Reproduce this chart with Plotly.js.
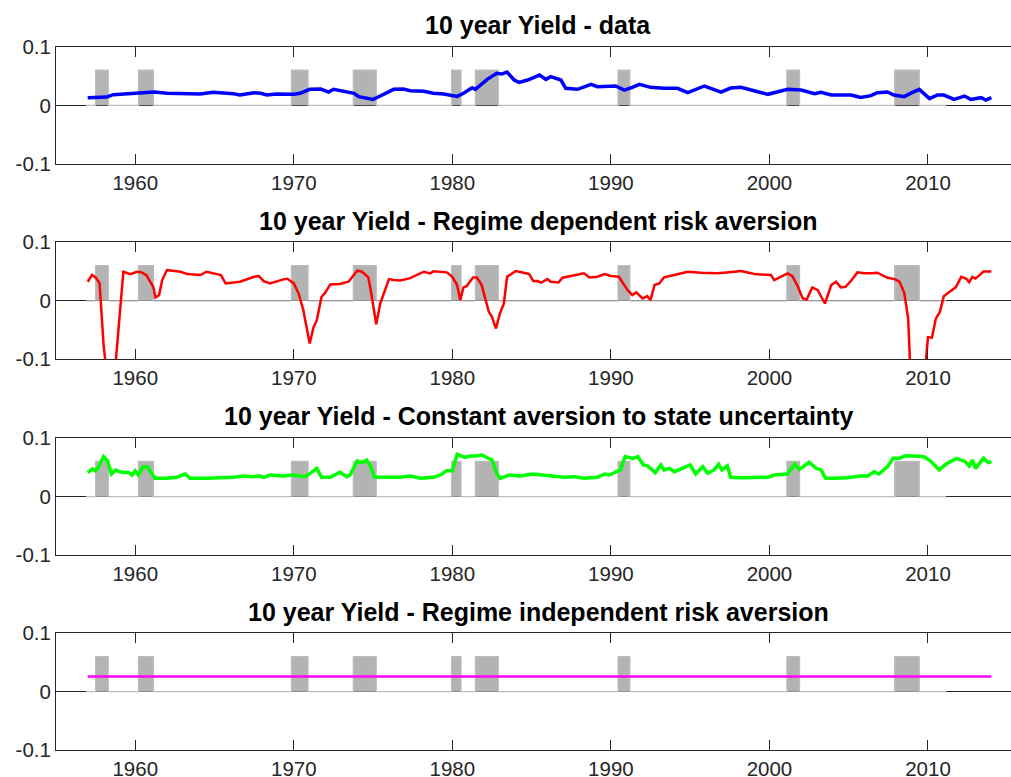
<!DOCTYPE html>
<html>
<head>
<meta charset="utf-8">
<script src="https://cdn.plot.ly/plotly-3.0.1.min.js"></script>
<style>html,body{margin:0;padding:0;background:#fff;}#chart{width:1011px;height:777px;}</style>
</head>
<body>
<div id="chart"></div>
<script>
// ---- Data ----
const titles = [
  "10 year Yield - data",
  "10 year Yield - Regime dependent risk aversion",
  "10 year Yield - Constant aversion to state uncertainty",
  "10 year Yield - Regime independent risk aversion"
];

// Recession shading (start / end of each shaded block), height and covered span
const recessionStart = [1957.5, 1960.2, 1969.85, 1973.75, 1979.95, 1981.45, 1990.45, 2001.1, 2007.9];
const recessionEnd   = [1958.3, 1961.15, 1970.9, 1975.2, 1980.55, 1982.9, 1991.2, 2001.9, 2009.45];
const recessionHeight = 0.06;
const shadeSpan = [1956.9, 2011.15];

// Panel 1: data
const dataYears = [1957.0,1958.2,1958.6,1960.0,1960.7,1961.2,1962.0,1964.1,1964.9,1966.2,1966.6,1967.5,1967.9,1968.3,1968.9,1970.0,1970.4,1971.0,1971.7,1972.2,1972.5,1973.35,1973.8,1974.1,1974.8,1975.0,1975.45,1975.9,1976.3,1976.9,1977.35,1978.2,1978.8,1979.45,1980.3,1980.7,1981.25,1981.45,1982.2,1982.8,1983.1,1983.45,1983.9,1984.2,1984.75,1985.5,1985.9,1986.2,1986.85,1987.15,1987.9,1988.75,1989.15,1990.3,1990.85,1991.35,1991.8,1992.5,1993.35,1994.2,1994.85,1995.9,1996.95,1997.55,1998.2,1998.85,1999.9,2001.15,2002.0,2002.85,2003.25,2003.9,2005.15,2005.75,2006.4,2006.8,2007.45,2007.85,2008.5,2008.9,2009.45,2010.1,2010.6,2011.0,2011.65,2012.3,2012.7,2013.35,2013.65,2014.0];
const dataYield = [0.0131,0.0142,0.0182,0.0205,0.0222,0.0227,0.0205,0.0193,0.0222,0.0199,0.0176,0.0216,0.0205,0.0176,0.0193,0.0188,0.0205,0.0273,0.0278,0.0227,0.0273,0.0227,0.0205,0.0148,0.0119,0.0102,0.0159,0.0216,0.0273,0.0278,0.025,0.0239,0.0205,0.0193,0.0153,0.0205,0.0301,0.0273,0.0443,0.0545,0.0534,0.0568,0.0432,0.0392,0.0432,0.0517,0.0443,0.0489,0.0432,0.029,0.0273,0.0358,0.0318,0.033,0.0261,0.0307,0.0358,0.0307,0.029,0.029,0.0216,0.033,0.0227,0.0295,0.0307,0.0261,0.0188,0.0273,0.0261,0.0199,0.0222,0.0176,0.0176,0.0136,0.0165,0.0216,0.0227,0.0176,0.0148,0.0205,0.0273,0.0114,0.0176,0.0176,0.0102,0.0159,0.0102,0.0131,0.0091,0.0131];

// Panel 2: regime dependent risk aversion
const depYears = [1957.0,1957.27,1957.5,1957.75,1958.0,1958.25,1958.5,1958.75,1959.0,1959.25,1959.7,1960.1,1960.4,1960.7,1961.15,1961.27,1961.5,1961.7,1962.0,1962.85,1963.3,1964.1,1964.5,1965.4,1965.7,1966.6,1967.5,1967.8,1968.1,1968.5,1969.35,1969.6,1970.0,1970.3,1970.6,1970.85,1971.0,1971.25,1971.45,1971.75,1971.95,1972.3,1972.9,1973.45,1974.0,1974.3,1974.7,1974.85,1975.2,1975.45,1976.0,1976.3,1976.7,1977.3,1977.75,1978.2,1978.6,1978.8,1979.65,1980.0,1980.3,1980.5,1980.7,1980.9,1981.3,1981.55,1981.85,1982.3,1982.5,1982.75,1983.0,1983.25,1983.45,1984.0,1984.5,1984.85,1985.1,1985.35,1985.6,1986.0,1986.2,1986.7,1986.95,1987.7,1988.3,1988.65,1989.15,1989.6,1990.0,1990.5,1991.05,1991.35,1991.6,1992.0,1992.3,1992.5,1992.75,1993.05,1993.35,1994.0,1994.85,1995.7,1996.75,1997.8,1998.2,1999.05,2000.1,2000.3,2001.15,2001.45,2001.8,2002.1,2002.35,2002.7,2003.05,2003.5,2003.9,2004.2,2004.5,2004.8,2005.15,2005.55,2006.0,2006.4,2006.8,2007.45,2007.9,2008.2,2008.5,2008.75,2009.0,2009.25,2009.5,2009.75,2010.0,2010.25,2010.5,2010.75,2011.0,2011.3,2011.75,2012.1,2012.4,2012.6,2012.8,2013.0,2013.5,2014.0];
const depYield = [0.0326,0.044,0.040,0.030,-0.075,-0.18,-0.2,-0.11,-0.03,0.0497,0.0457,0.0497,0.0486,0.044,0.0229,0.0057,0.0097,0.0354,0.0526,0.0497,0.0457,0.044,0.0497,0.044,0.0297,0.0326,0.0411,0.0423,0.0337,0.0297,0.0366,0.0377,0.0297,0.0126,-0.016,-0.0503,-0.0731,-0.0446,-0.0331,0.0069,0.0126,0.028,0.0286,0.0326,0.0514,0.0497,0.040,0.0183,-0.040,-0.0046,0.0371,0.0354,0.0349,0.0383,0.044,0.0497,0.0469,0.0503,0.0486,0.0411,0.0269,0.0011,0.0229,0.0251,0.040,0.040,0.0269,-0.0189,-0.0274,-0.0474,-0.0217,-0.0046,0.0411,0.0509,0.048,0.0457,0.0337,0.0337,0.0309,0.0371,0.0326,0.0314,0.0394,0.044,0.0469,0.040,0.0411,0.0457,0.0423,0.0411,0.0183,0.0097,0.0143,0.004,0.008,0.0011,0.0269,0.0297,0.040,0.044,0.0497,0.048,0.0469,0.0497,0.0509,0.0457,0.044,0.0354,0.0469,0.0423,0.024,0.004,0.0023,0.0229,0.0183,-0.0046,0.0269,0.0326,0.0229,0.024,0.0343,0.0486,0.0469,0.0469,0.048,0.0394,0.0371,0.0326,0.014,-0.03,-0.2,-0.35,-0.3,-0.14,-0.062,-0.063,-0.030,-0.019,0.008,0.014,0.023,0.041,0.038,0.032,0.041,0.038,0.050,0.050];

// Panel 3: constant aversion to state uncertainty
const constYears = [1957.0,1957.3,1957.5,1957.7,1958.0,1958.25,1958.5,1958.75,1959.0,1959.6,1959.8,1960.0,1960.2,1960.5,1960.75,1961.25,1962.0,1962.6,1963.15,1963.45,1964.5,1966.2,1966.8,1967.45,1967.9,1968.1,1968.5,1969.35,1970.0,1970.7,1971.1,1971.45,1971.75,1972.3,1972.9,1973.35,1973.55,1974.0,1974.3,1974.6,1974.8,1975.1,1975.7,1976.7,1977.35,1978.0,1978.8,1979.25,1979.65,1980.0,1980.3,1980.8,1981.1,1981.5,1981.85,1982.5,1982.8,1983.0,1983.6,1984.3,1985.05,1985.8,1987.05,1987.7,1988.3,1989.15,1989.6,1989.9,1990.3,1990.6,1990.9,1991.15,1991.4,1991.7,1992.05,1992.3,1992.8,1993.15,1993.35,1993.7,1994.0,1994.5,1995.0,1995.35,1995.8,1996.1,1996.5,1996.8,1997.0,1997.35,1997.55,1998.2,1999.25,1999.9,2000.3,2001.15,2001.6,2001.9,2002.5,2002.95,2003.25,2003.55,2004.1,2004.9,2005.75,2006.2,2006.6,2006.9,2007.45,2007.8,2008.2,2008.6,2009.1,2009.75,2010.2,2010.7,2011.2,2011.8,2012.35,2012.6,2012.8,2013.0,2013.5,2013.8,2014.0];
const constYield = [0.0409,0.0472,0.0438,0.0511,0.0682,0.0608,0.0386,0.0455,0.0426,0.0409,0.0369,0.0438,0.0369,0.0511,0.0511,0.0313,0.0313,0.033,0.0386,0.0313,0.0313,0.033,0.0352,0.0341,0.0352,0.033,0.0369,0.0352,0.0369,0.0341,0.0409,0.0483,0.033,0.033,0.0415,0.0341,0.0369,0.0608,0.058,0.0625,0.054,0.033,0.033,0.033,0.0352,0.0313,0.033,0.0369,0.0443,0.0443,0.0722,0.067,0.0693,0.0693,0.071,0.0625,0.0398,0.0313,0.0369,0.0352,0.0386,0.0369,0.033,0.0341,0.0313,0.033,0.0386,0.0369,0.0426,0.0455,0.0682,0.067,0.0653,0.0682,0.054,0.0528,0.0409,0.054,0.0455,0.0483,0.0426,0.0483,0.054,0.0386,0.0511,0.0398,0.0455,0.0551,0.0455,0.0523,0.033,0.0324,0.0324,0.033,0.0369,0.0386,0.0557,0.0466,0.0585,0.0483,0.0455,0.0313,0.0313,0.0324,0.0352,0.0352,0.0426,0.0386,0.0511,0.0653,0.0653,0.0699,0.0693,0.0682,0.0597,0.0455,0.0568,0.0653,0.0597,0.0523,0.0625,0.0483,0.0653,0.058,0.0597];

// Panel 4: regime independent risk aversion (flat)
const indepYears = [1957.0, 2014.0];
const indepYield = [0.026, 0.026];

const yTickVals = [-0.1, 0, 0.1];
const yTickText = ["-0.1", "0", "0.1"];
const xTickVals = [1960, 1970, 1980, 1990, 2000, 2010];
const xTickText = ["1960", "1970", "1980", "1990", "2000", "2010"];

// ---- Build figure ----
const seriesX = [dataYears, depYears, constYears, indepYears];
const seriesY = [dataYield, depYield, constYield, indepYield];
const colors = ["#0000ff", "#ff0000", "#00ff00", "#ff00ff"];
const widths = [3.5, 2.5, 3.5, 2.5];

// shading polygon from the recession arrays
const shX = [shadeSpan[0]], shY = [0];
for (let i = 0; i < recessionStart.length; i++) {
  shX.push(recessionStart[i], recessionStart[i], recessionEnd[i], recessionEnd[i]);
  shY.push(0, recessionHeight, recessionHeight, 0);
}
shX.push(shadeSpan[1]); shY.push(0);

const W = 1011, H = 777, L = 56;
const pxPerYear = 15.854;
const xRange = [1955, 1955 + (W - L) / pxPerYear];
const titleCenterYear = 1985.42;
// panel pixel tops / bottoms
const panelTop = [46.7, 242.3, 438.0, 633.3];
const panelBot = [164.0, 359.3, 555.3, 750.0];

const traces = [];
const layout = {
  width: W, height: H,
  margin: {l: L, r: 0, t: 0, b: 0},
  paper_bgcolor: "#ffffff", plot_bgcolor: "#ffffff",
  showlegend: false,
  font: {family: "Liberation Sans, Arial, sans-serif", color: "#262626"},
  annotations: []
};

for (let k = 0; k < 4; k++) {
  const sfx = k === 0 ? "" : String(k + 1);
  const xa = "x" + sfx, ya = "y" + sfx;
  traces.push({
    x: shX, y: shY, xaxis: xa, yaxis: ya, type: "scatter", mode: "lines",
    fill: "tozeroy", fillcolor: "#b3b3b3",
    line: {color: "#bdbdbd", width: 1.2}, hoverinfo: "skip"
  });
  traces.push({
    x: seriesX[k], y: seriesY[k], xaxis: xa, yaxis: ya, type: "scatter", mode: "lines",
    line: {color: colors[k], width: widths[k]}
  });
  layout["xaxis" + sfx] = {
    domain: [0, 1], anchor: ya, range: xRange,
    tickmode: "array", tickvals: xTickVals, ticktext: xTickText,
    ticks: "inside", ticklen: 10, tickwidth: 1, tickcolor: "#262626",
    showline: true, linecolor: "#262626", linewidth: 1, mirror: "ticks",
    showgrid: false, zeroline: false,
    tickfont: {size: 20.5, color: "#262626", family: "Liberation Sans, Arial, sans-serif"},
    fixedrange: true
  };
  layout["yaxis" + sfx] = {
    domain: [1 - panelBot[k] / H, 1 - panelTop[k] / H], anchor: xa, range: [-0.1, 0.1],
    tickmode: "array", tickvals: yTickVals, ticktext: yTickText,
    ticks: "inside", ticklen: 10, tickwidth: 1, tickcolor: "#262626",
    showline: true, linecolor: "#262626", linewidth: 1, mirror: false,
    showgrid: false, zeroline: true, zerolinecolor: "#262626", zerolinewidth: 1,
    tickfont: {size: 20.5, color: "#262626", family: "Liberation Sans, Arial, sans-serif"},
    fixedrange: true
  };
  layout.annotations.push({
    text: "<b>" + titles[k] + "</b>", xref: xa, x: titleCenterYear,
    yref: ya + " domain", y: 1, yanchor: "middle", yshift: 21.7,
    showarrow: false, font: {size: 25, color: "#000000", family: "Liberation Sans, Arial, sans-serif"}
  });
}

Plotly.newPlot("chart", traces, layout, {staticPlot: true, displayModeBar: false});
</script>
</body>
</html>
